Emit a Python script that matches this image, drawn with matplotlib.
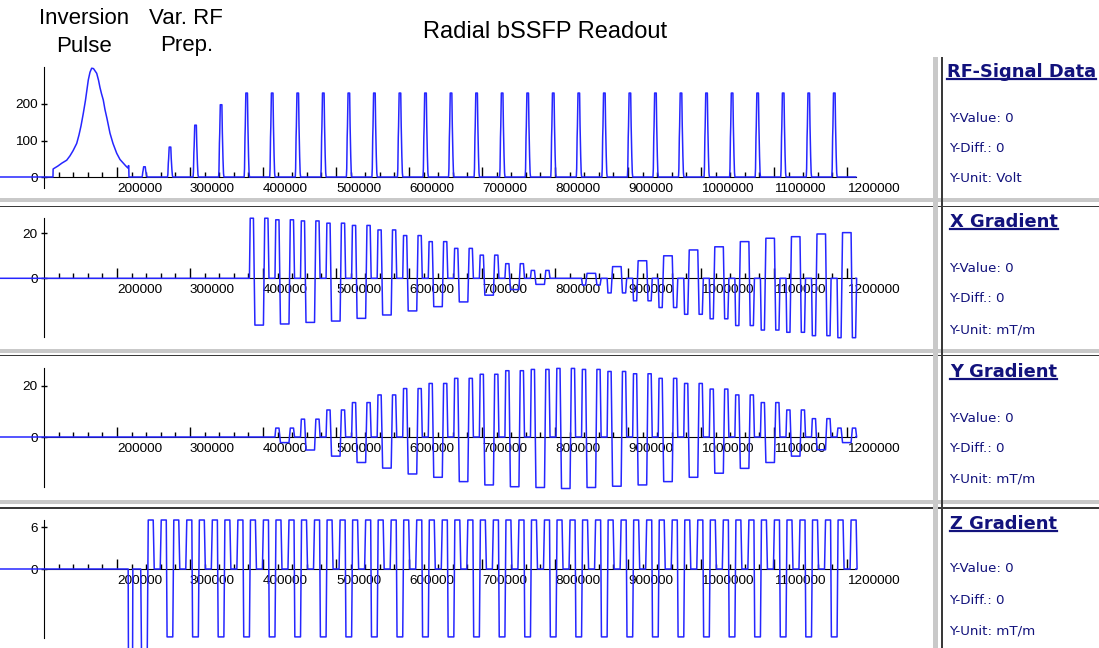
import matplotlib
matplotlib.use("Agg")
import matplotlib.pyplot as plt
from matplotlib.lines import Line2D
from matplotlib.patches import Rectangle

W, H = 1099, 648
plt.rcParams['font.family'] = ['Liberation Sans', 'DejaVu Sans']

BLUE = '#2626ff'
NAVY = '#12127c'

# ---- sequence data -------------------------------------------------------
TR = 35000                # spacing of the RF pulses (x axis units)
RF_T0 = 238000            # centre of the first pulse after the inversion

# inversion pulse envelope (top panel)
INV_T = [112300, 112500, 119000, 124500, 131100, 135600, 139800, 144800,
         147900, 150700, 153800, 156800, 158900, 160700, 163000, 165300,
         167800, 169900, 172200, 174700, 176700, 178800, 181200, 183500,
         186300, 190400, 194500, 199600, 204100, 208600, 212200, 215300,
         215600, 216100, 216400]
INV_AMP = [0, 22, 30, 38, 46, 58, 72, 92, 115, 140, 174, 210, 240, 266, 287,
           298, 297, 291, 284, 265, 245, 228, 211, 185, 160, 120, 92, 65, 48,
           38, 30, 24, 31, 31, 0]

# peak amplitude of every RF pulse: 4 ramp-up pulses, then the readout train
RF_AMP = [28, 82, 142, 198,
          230, 230, 230, 230, 230, 230, 230, 230, 230, 230, 230, 230,
          230, 230, 230, 230, 230, 230, 230, 230, 230, 230, 230, 230]
# RF pulse envelope: offset from the centre and fraction of the peak
RF_DT = [-3800, -3300, -2700, -2300, -1500, 700, 1300, 2200, 2900, 3500]
RF_REL = [0, 0.1, 0.47, 0.6, 1.0, 1.0, 0.62, 0.25, 0.05, 0]

# X / Y: readout lobe and rephasing lobes for each TR, from pulse 5 onwards
READ_FIRST = 4
GX_READ = [-20.8, -20.3, -19.6, -19.0, -17.8, -16.3, -14.5, -12.6, -10.5, -7.5,
           -5.0, -2.7, 0.0, 2.2, 5.2, 7.8, 10.0, 12.6, 14.0, 16.3, 17.8, 18.5,
           19.7, 20.3]
GX_PRE = [26.7, 26.0, 25.5, 24.5, 23.5, 21.5, 19.0, 16.3, 13.3, 10.3, 6.5, 3.5,
          0.0, -3.0, -6.5, -10.0, -13.0, -16.0, -18.0, -21.0, -23.0, -24.0,
          -25.5, -26.4]
GY_READ = [0.0, -2.2, -5.1, -7.5, -10.0, -12.2, -14.5, -15.8, -17.5, -18.8,
           -19.5, -19.8, -20.2, -19.8, -19.3, -18.8, -17.5, -15.8, -14.2, -12.3,
           -10.0, -7.5, -5.0, -2.2]
GY_PRE = [0.0, 3.5, 7.0, 10.6, 13.5, 16.5, 19.0, 21.0, 23.0, 24.6, 26.0, 26.5,
          26.9, 26.5, 25.7, 24.8, 23.0, 21.0, 18.8, 16.5, 13.5, 10.6, 7.2, 3.5]

# Z: slice-select lobe under every RF pulse, flanked by rephasers
GZ_SEL = [-12.5, -9.7, -9.7, -9.7, -9.7, -9.7, -9.7, -9.7, -9.7, -9.7, -9.7,
          -9.7, -9.7, -9.7, -9.7, -9.7, -9.7, -9.7, -9.7, -9.7, -9.7, -9.7,
          -9.7, -9.7, -9.7, -9.7, -9.7, -9.7]
GZ_REPH = 7.0
Z_SPOIL_T = [215300, 215700, 221300, 221700]
Z_SPOIL_AMP = [0, -14, -14, 0]

X_TICKS = [200000, 300000, 400000, 500000, 600000, 700000, 800000, 900000,
           1000000, 1100000, 1200000]

# lobe timing inside one TR (offsets from the RF centre)
XY_DT = [3400, 4500, 8900, 10900, 22600, 24400, 28800, 30200]
Z_DT = [-4400, 3400, 4800, 11600, 13000, 21200, 22600, 29500]

# ---- axes geometry --------------------------------------------------------
PX = 100000 / 73.0            # x units per pixel
X_ORIGIN_PX = 44              # pixel column of x = 100000
X_LEFT = 100000 - X_ORIGIN_PX * PX
X_RIGHT = 100000 + (930 - X_ORIGIN_PX) * PX
AXIS_END = 1212000


def fx(px):
    return px / W


def fy(py):
    return 1 - py / H


def rf_wave():
    t = [X_LEFT] + INV_T
    a = [0] + INV_AMP
    for k, amp in enumerate(RF_AMP):
        tc = RF_T0 + k * TR
        t += [tc + d for d in RF_DT]
        a += [amp * r for r in RF_REL]
    t.append(AXIS_END)
    a.append(0)
    return t, a


def xy_wave(read, pre):
    t, g = [X_LEFT], [0]
    for i, (r, p) in enumerate(zip(read, pre)):
        tc = RF_T0 + (READ_FIRST + i) * TR
        t += [tc + d for d in XY_DT]
        g += [0, p, p, r, r, p, p, 0]
    t.append(AXIS_END)
    g.append(0)
    return t, g


def z_wave():
    t = [X_LEFT] + Z_SPOIL_T
    g = [0] + Z_SPOIL_AMP
    t.append(RF_T0 - 5500)
    g.append(0)
    for k, s in enumerate(GZ_SEL):
        tc = RF_T0 + k * TR
        t += [tc + d for d in Z_DT]
        g += [s, s, GZ_REPH, GZ_REPH, 0, 0, GZ_REPH, GZ_REPH]
    t += [t[-1] + 1300, AXIS_END]
    g += [0, 0]
    return t, g


def panel(fig, top, bot, zero_px, px_per_unit, ax_top, ax_bot, yticks):
    ax = fig.add_axes([0, fy(bot), fx(930), (bot - top) / H])
    ax.set_xlim(X_LEFT, X_RIGHT)
    ax.set_ylim((zero_px - bot) / px_per_unit, (zero_px - top) / px_per_unit)
    ax.patch.set_visible(False)
    for s in ('top', 'right'):
        ax.spines[s].set_visible(False)
    ax.spines['bottom'].set_position(('data', 0))
    ax.spines['left'].set_position(('data', 100000))
    ax.spines['bottom'].set_bounds(100000, AXIS_END)
    ax.spines['left'].set_bounds((zero_px - ax_bot) / px_per_unit,
                                 (zero_px - ax_top) / px_per_unit)
    ax.set_xticks(X_TICKS)
    ax.set_xticklabels([str(v) for v in X_TICKS], ha='left')
    ax.set_xticks([v for v in range(120000, 1210000, 20000) if v % 100000],
                  minor=True)
    ax.tick_params(axis='x', which='major', direction='in', length=7,
                   width=1, labelsize=9.7, pad=4)
    ax.tick_params(axis='x', which='minor', direction='in', length=3.5, width=1)
    ax.set_yticks(yticks)
    ax.set_yticklabels([str(v) for v in yticks])
    ax.tick_params(axis='y', direction='inout', length=5, width=1,
                   labelsize=9.7, pad=2)
    return ax


fig = plt.figure(figsize=(W / 100, H / 100), dpi=100)
fig.patch.set_facecolor('white')

ax1 = panel(fig, 55, 196, 177, 0.365, 67, 188, [0, 100, 200])
t, a = rf_wave()
ax1.plot(t, a, color=BLUE, lw=1.1, zorder=3, clip_on=False)

ax2 = panel(fig, 208, 349, 278.3, 2.25, 218, 337, [0, 20])
t, g = xy_wave(GX_READ, GX_PRE)
ax2.plot(t, g, color=BLUE, lw=1.1, zorder=3, clip_on=False)

ax3 = panel(fig, 357, 498, 437, 2.55, 368, 487, [0, 20])
t, g = xy_wave(GY_READ, GY_PRE)
ax3.plot(t, g, color=BLUE, lw=1.1, zorder=3, clip_on=False)

ax4 = panel(fig, 509, 648, 569, 7.0, 520, 638, [0, 6])
t, g = z_wave()
ax4.plot(t, g, color=BLUE, lw=1.1, zorder=3)

# ---- headers --------------------------------------------------------------
hdr = dict(fontsize=16, ha='center', va='center', color='black')
fig.text(fx(84), fy(18), 'Inversion', **hdr)
fig.text(fx(84), fy(46), 'Pulse', **hdr)
fig.text(fx(186), fy(18), 'Var. RF', **hdr)
fig.text(fx(187), fy(46), 'Prep.', **hdr)
fig.text(fx(545), fy(32), 'Radial bSSFP Readout', fontsize=17, ha='center',
         va='center', color='black')

# ---- window separators ----------------------------------------------------
for gy, dy in [(198, 206), (349, 355), (500, 507)]:
    fig.add_artist(Rectangle((0, fy(gy + 4)), 1, 4 / H, transform=fig.transFigure,
                             facecolor='#c9c9c9', edgecolor='none'))
    fig.add_artist(Rectangle((0, fy(dy + 1.5)), 1, 1.5 / H,
                             transform=fig.transFigure,
                             facecolor='#3a3a3a', edgecolor='none'))
fig.add_artist(Rectangle((fx(933), 0), 5 / W, fy(57), transform=fig.transFigure,
                         facecolor='#c9c9c9', edgecolor='none'))
fig.add_artist(Rectangle((fx(941), 0), 2 / W, fy(57), transform=fig.transFigure,
                         facecolor='#3a3a3a', edgecolor='none'))

# ---- info boxes on the right ---------------------------------------------
INFO = [('RF-Signal Data', 'Volt', 947, 77, [119, 149, 179]),
        ('X Gradient', 'mT/m', 950, 227, [268, 298, 330]),
        ('Y Gradient', 'mT/m', 950, 377, [418, 448, 479]),
        ('Z Gradient', 'mT/m', 950, 529, [569, 600, 631])]
titles = []
for name, unit, x0, base, rows in INFO:
    tt = fig.text(fx(x0), fy(base), name, fontsize=12.9, fontweight='bold',
                  family='DejaVu Sans', color=NAVY, ha='left', va='baseline')
    titles.append(tt)
    for txt, ry in zip(['Y-Value: 0', 'Y-Diff.: 0', 'Y-Unit: ' + unit], rows):
        fig.text(fx(949), fy(ry), txt, fontsize=9.6, family='DejaVu Sans',
                 color=NAVY, ha='left', va='center')

fig.canvas.draw()
for tt in titles:
    bb = tt.get_window_extent()
    fig.add_artist(Line2D([bb.x0 / W, bb.x1 / W], [fy(H - bb.y0 - 2)] * 2,
                          transform=fig.transFigure, color=NAVY, lw=1.6))

fig.savefig('out.png', dpi=100)
